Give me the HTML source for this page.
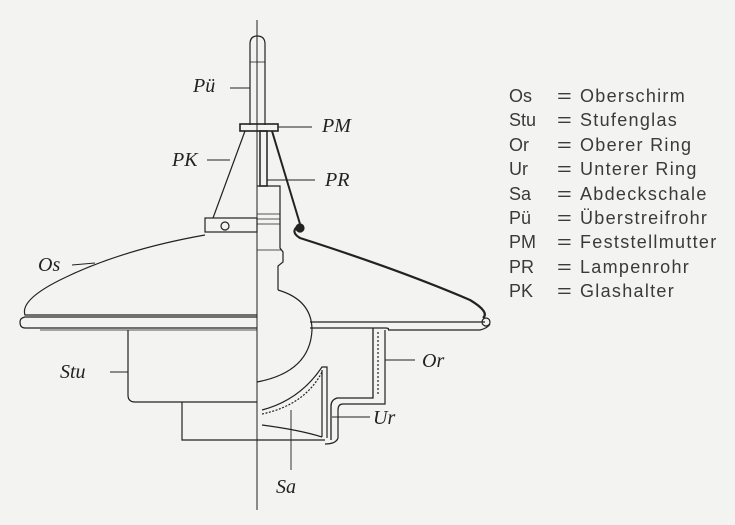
<!DOCTYPE html>
<html><head><meta charset="utf-8"><style>
html,body{margin:0;padding:0;background:#f3f3f1;}
.w{position:relative;width:735px;height:525px;overflow:hidden;background:#f3f3f1;}
.leg{position:absolute;left:509px;top:84px;font-family:"Liberation Sans",sans-serif;font-size:18px;color:#3a3a3a;line-height:24.4px;}
.leg div{white-space:nowrap;}
.leg span.a{display:inline-block;width:48px;}
.leg span.e{display:inline-block;width:23px;transform:scaleX(1.4);transform-origin:left;}
.leg span.t{letter-spacing:1.3px;}
svg text{font-family:"Liberation Serif",serif;font-style:italic;font-size:20px;fill:#222;}
</style></head><body><div class="w">
<svg width="735" height="525" style="position:absolute;left:0;top:0" fill="none" stroke="#222" stroke-width="1.2">
<line x1="257" y1="20" x2="257" y2="510" stroke-width="1"/>
<path d="M250 125 L250 44 Q250 36 257 36 Q265 36 265 44 L265 125"/>
<line x1="250" y1="62" x2="265" y2="62" stroke-width="0.8"/>
<rect x="240" y="124" width="38" height="7" stroke-width="1.6"/>
<rect x="260" y="131" width="7" height="55" stroke-width="1.5"/>
<line x1="245" y1="131" x2="213" y2="218"/>
<line x1="272" y1="131" x2="300" y2="224" stroke-width="2"/>
<rect x="205" y="218" width="52" height="14"/>
<circle cx="225" cy="226" r="4"/>
<path d="M257 186 L280 186 L280 248 L283 252 L283 262 L278 266 L278 290"/>
<line x1="257" y1="214" x2="280" y2="214" stroke-width="0.8"/>
<line x1="257" y1="219" x2="280" y2="219" stroke-width="0.8"/>
<line x1="257" y1="224" x2="280" y2="224" stroke-width="0.8"/>
<line x1="257" y1="250" x2="281" y2="250" stroke-width="0.8"/>
<path d="M278 290 Q312 300 312 330 Q310 372 257 382"/>
<path d="M205 235 Q120 250 60 280 Q20 300 25 315 L257 315"/>
<path d="M257 317 L25 317 Q20 318 20 322 Q20 328 25 328 L257 328"/>
<path d="M40 330 L257 330" stroke-width="0.8"/>
<path d="M298 226 Q290 232 300 238 Q400 270 470 300 Q490 312 483 318" stroke-width="2.2"/>
<circle cx="300" cy="228" r="4" fill="#222"/>
<path d="M310 322 L485 322"/>
<circle cx="486" cy="322" r="4"/>
<path d="M310 328 L385 328 Q390 328 388 330"/>
<path d="M388 330 L480 330 Q488 328 490 324"/>
<path d="M128 330 L128 395 Q128 402 135 402 L257 402"/>
<path d="M182 402 L182 440 L325 440"/>
<path d="M373 328 L373 398 L337 398 Q331 400 331 406 L331 440" stroke-width="1.3"/>
<path d="M385 330 L385 404 L343 404 Q338 404 338 410 L338 438 Q336 444 325 444"/>
<line x1="378" y1="332" x2="378" y2="396" stroke-dasharray="2 2"/>
<path d="M262 410 Q300 400 322 367 L327 367 L327 438"/>
<path d="M262 414 Q305 405 322 372" stroke-dasharray="2 1.5"/>
<line x1="322" y1="370" x2="322" y2="437"/>
<path d="M262 425 Q300 430 322 437"/>
<line x1="230" y1="88" x2="250" y2="88" stroke-width="0.9"/>
<line x1="278" y1="127" x2="312" y2="127" stroke-width="0.9"/>
<line x1="207" y1="160" x2="230" y2="160" stroke-width="0.9"/>
<line x1="267" y1="180" x2="315" y2="180" stroke-width="0.9"/>
<line x1="72" y1="265" x2="95" y2="263" stroke-width="0.9"/>
<line x1="110" y1="372" x2="128" y2="372" stroke-width="0.9"/>
<line x1="385" y1="360" x2="415" y2="360" stroke-width="0.9"/>
<line x1="332" y1="417" x2="370" y2="417" stroke-width="0.9"/>
<line x1="291" y1="410" x2="291" y2="470" stroke-width="0.9"/>
</svg>
<svg width="735" height="525" style="position:absolute;left:0;top:0">
<text x="193" y="92">Pü</text>
<text x="322" y="132">PM</text>
<text x="172" y="166">PK</text>
<text x="325" y="186">PR</text>
<text x="38" y="271">Os</text>
<text x="60" y="378">Stu</text>
<text x="422" y="367">Or</text>
<text x="373" y="424">Ur</text>
<text x="276" y="493">Sa</text>
</svg>
<div class="leg">
<div><span class="a">Os</span><span class="e">=</span><span class="t">Oberschirm</span></div>
<div><span class="a">Stu</span><span class="e">=</span><span class="t">Stufenglas</span></div>
<div><span class="a">Or</span><span class="e">=</span><span class="t">Oberer Ring</span></div>
<div><span class="a">Ur</span><span class="e">=</span><span class="t">Unterer Ring</span></div>
<div><span class="a">Sa</span><span class="e">=</span><span class="t">Abdeckschale</span></div>
<div><span class="a">Pü</span><span class="e">=</span><span class="t">Überstreifrohr</span></div>
<div><span class="a">PM</span><span class="e">=</span><span class="t">Feststellmutter</span></div>
<div><span class="a">PR</span><span class="e">=</span><span class="t">Lampenrohr</span></div>
<div><span class="a">PK</span><span class="e">=</span><span class="t">Glashalter</span></div>
</div>
</div></body></html>
